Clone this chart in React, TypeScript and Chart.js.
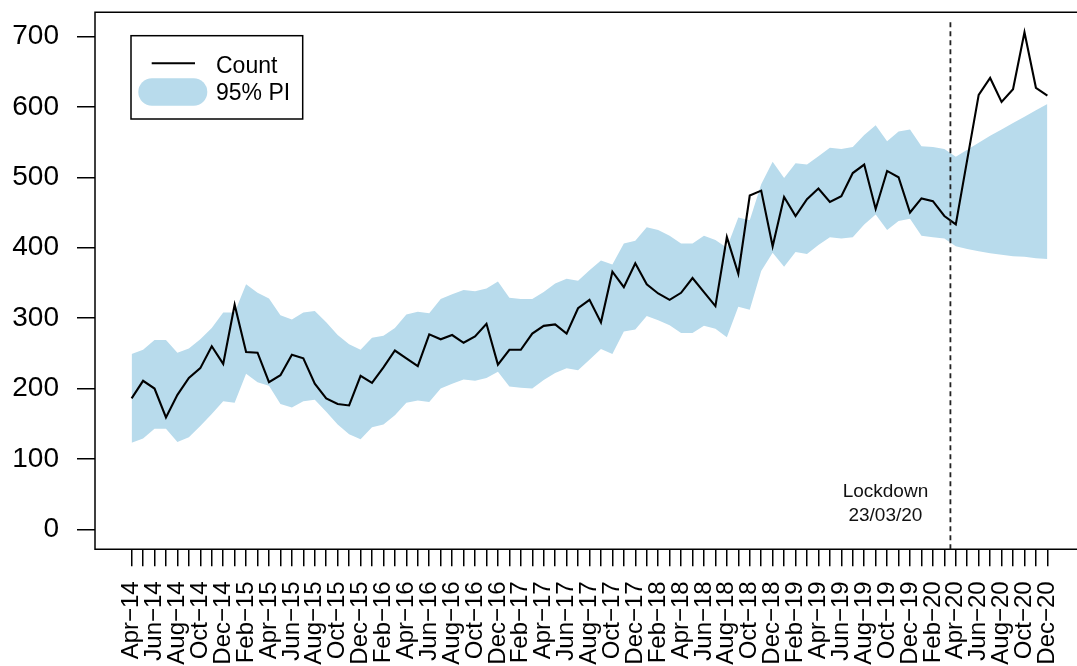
import React, { useEffect, useRef } from "react";
import { Chart, registerables } from "chart.js";

Chart.register(...registerables);

const monthLabels = [
  "Apr−14", "May−14", "Jun−14", "Jul−14", "Aug−14", "Sep−14", "Oct−14", "Nov−14", "Dec−14",
  "Jan−15", "Feb−15", "Mar−15", "Apr−15", "May−15", "Jun−15", "Jul−15", "Aug−15", "Sep−15", "Oct−15", "Nov−15", "Dec−15",
  "Jan−16", "Feb−16", "Mar−16", "Apr−16", "May−16", "Jun−16", "Jul−16", "Aug−16", "Sep−16", "Oct−16", "Nov−16", "Dec−16",
  "Jan−17", "Feb−17", "Mar−17", "Apr−17", "May−17", "Jun−17", "Jul−17", "Aug−17", "Sep−17", "Oct−17", "Nov−17", "Dec−17",
  "Jan−18", "Feb−18", "Mar−18", "Apr−18", "May−18", "Jun−18", "Jul−18", "Aug−18", "Sep−18", "Oct−18", "Nov−18", "Dec−18",
  "Jan−19", "Feb−19", "Mar−19", "Apr−19", "May−19", "Jun−19", "Jul−19", "Aug−19", "Sep−19", "Oct−19", "Nov−19", "Dec−19",
  "Jan−20", "Feb−20", "Mar−20", "Apr−20", "May−20", "Jun−20", "Jul−20", "Aug−20", "Sep−20", "Oct−20", "Nov−20", "Dec−20",
];

const countValues = [
  186, 211, 200, 159, 191, 215, 229, 260, 235,
  319, 252, 251, 209, 219, 248, 243, 207, 186, 178, 176, 218,
  208, 230, 254, 243, 232, 277, 270, 276, 265, 274, 292, 234,
  255, 255, 278, 289, 291, 278, 314, 326, 294, 366, 344, 378,
  348, 335, 326, 336, 357, 337, 317, 415, 363, 474, 481, 402,
  472, 445, 469, 484, 465, 473, 506, 518, 455, 509, 500, 450,
  470, 466, 445, 433, 525, 617, 641, 607, 625, 706, 627, 616,
];

const upperPI = [
  249, 255, 269, 269, 251, 257, 270, 286, 308,
  308, 348, 336, 328, 304, 298, 308, 310, 294, 276, 263, 255,
  272, 275, 286, 305, 309, 307, 327, 334, 340, 338, 342, 352,
  329, 327, 327, 337, 349, 356, 353, 368, 382, 376, 406, 410,
  429, 425, 417, 406, 406, 417, 411, 400, 443, 439, 490, 522,
  499, 520, 518, 530, 542, 540, 543, 560, 574, 551, 565, 568,
  544, 543, 540, 529, 539, 549, 559, 568, 577, 586, 595, 604,
];

const lowerPI = [
  123, 129, 143, 143, 124, 131, 147, 164, 182,
  180, 221, 209, 204, 178, 173, 182, 184, 167, 149, 135, 128,
  145, 149, 162, 180, 183, 181, 200, 207, 213, 211, 215, 224,
  203, 201, 200, 212, 222, 229, 226, 241, 256, 249, 281, 284,
  303, 297, 290, 279, 279, 289, 285, 273, 316, 312, 367, 393,
  373, 394, 391, 404, 415, 413, 415, 433, 447, 425, 438, 441,
  417, 415, 413, 402, 398, 395, 392, 390, 388, 387, 385, 384,
];

const yTickValues = [0, 100, 200, 300, 400, 500, 600, 700];
const lockdownIndex = 71.53;
const lockdownText = ["Lockdown", "23/03/20"];
const legendLabels = ["Count", "95% PI"];

const FONT = "'Liberation Sans', Arial, Helvetica, sans-serif";
const BAND = "rgb(184,219,236)";

function roundedPill(ctx: CanvasRenderingContext2D, x: number, y: number, w: number, h: number) {
  const r = h / 2;
  ctx.beginPath();
  ctx.moveTo(x + r, y);
  ctx.lineTo(x + w - r, y);
  ctx.arc(x + w - r, y + r, r, -Math.PI / 2, Math.PI / 2);
  ctx.lineTo(x + r, y + h);
  ctx.arc(x + r, y + r, r, Math.PI / 2, (3 * Math.PI) / 2);
  ctx.closePath();
}

const overlayPlugin = {
  id: "overlay",
  afterDraw(chart: any) {
    const { ctx, chartArea: a, scales } = chart;
    const xs = scales.x;
    ctx.save();
    // plot box (right side lies beyond the visible page)
    ctx.strokeStyle = "#000";
    ctx.lineWidth = 1.5;
    ctx.beginPath();
    ctx.moveTo(a.right + 10, a.top);
    ctx.lineTo(a.left, a.top);
    ctx.lineTo(a.left, a.bottom);
    ctx.lineTo(a.right + 10, a.bottom);
    ctx.stroke();

    // lockdown line
    const lx = xs.getPixelForValue(lockdownIndex);
    ctx.setLineDash([5, 4]);
    ctx.lineWidth = 1.8;
    ctx.strokeStyle = "#222";
    ctx.beginPath();
    ctx.moveTo(lx, a.bottom);
    ctx.lineTo(lx, a.top + 8);
    ctx.stroke();
    ctx.setLineDash([]);

    ctx.fillStyle = "#111";
    ctx.font = `19px ${FONT}`;
    ctx.textAlign = "center";
    ctx.textBaseline = "alphabetic";
    ctx.fillText(lockdownText[0], lx - 65, a.bottom - 52.6);
    ctx.fillText(lockdownText[1], lx - 65, a.bottom - 28.3);

    // legend
    const bx = a.left + 36;
    const by = a.top + 23.4;
    ctx.fillStyle = "#fff";
    ctx.fillRect(bx, by, 171.7, 83.3);
    ctx.strokeStyle = "#000";
    ctx.lineWidth = 1.5;
    ctx.strokeRect(bx, by, 171.7, 83.3);

    ctx.lineWidth = 2;
    ctx.beginPath();
    ctx.moveTo(bx + 20.7, by + 27.6);
    ctx.lineTo(bx + 64, by + 27.6);
    ctx.stroke();

    ctx.fillStyle = BAND;
    roundedPill(ctx, bx + 7.3, by + 42.6, 69, 27.4);
    ctx.fill();

    ctx.fillStyle = "#000";
    ctx.font = `23px ${FONT}`;
    ctx.textAlign = "left";
    ctx.fillText(legendLabels[0], bx + 85, by + 37);
    ctx.fillText(legendLabels[1], bx + 85, by + 64.6);
    ctx.restore();
  },
};

export default function App() {
  const canvasRef = useRef<HTMLCanvasElement | null>(null);

  useEffect(() => {
    const canvas = canvasRef.current;
    if (!canvas) return;
    const dataMax = Math.max(...countValues, ...upperPI);
    const dataMin = 0;
    const pad = (dataMax - dataMin) * 0.04;
    const xPad = (monthLabels.length - 1) * 0.04;

    const chart = new Chart(canvas, {
      type: "line",
      data: {
        datasets: [
          {
            label: legendLabels[0],
            data: countValues.map((y, i) => ({ x: i, y })),
            borderColor: "#000",
            borderWidth: 2.1,
            pointRadius: 0,
            fill: false,
            tension: 0,
          },
          {
            label: "upper",
            data: upperPI.map((y, i) => ({ x: i, y })),
            borderColor: "rgba(0,0,0,0)",
            backgroundColor: BAND,
            borderWidth: 0.01,
            pointRadius: 0,
            fill: "+1",
            tension: 0,
          },
          {
            label: "lower",
            data: lowerPI.map((y, i) => ({ x: i, y })),
            borderColor: "rgba(0,0,0,0)",
            borderWidth: 0.01,
            pointRadius: 0,
            fill: false,
            tension: 0,
          },
        ],
      },
      options: {
        animation: false,
        responsive: false,
        devicePixelRatio: 1,
        events: [],
        layout: { padding: { top: 12.3, left: 0, right: 0, bottom: 0 } },
        plugins: {
          legend: { display: false },
          tooltip: { enabled: false },
        },
        scales: {
          x: {
            type: "linear",
            min: -xPad,
            max: monthLabels.length - 1 + xPad,
            afterBuildTicks: (s: any) => {
              s.ticks = monthLabels.map((_, i) => ({ value: i }));
            },
            afterFit: (s: any) => {
              s.height = 116.7;
              s.paddingLeft = 0;
              s.paddingRight = 0;
            },
            ticks: {
              autoSkip: false,
              minRotation: 90,
              maxRotation: 90,
              padding: 15,
              color: "#000",
              font: { size: 24, family: FONT },
              callback: (v: any) => {
                const i = Math.round(Number(v));
                return i % 2 === 0 ? monthLabels[i] : "";
              },
            },
            grid: {
              drawOnChartArea: false,
              drawTicks: true,
              tickLength: 17,
              color: "#000",
              lineWidth: 1.5,
            },
            border: { display: false },
          },
          y: {
            type: "linear",
            min: dataMin - pad,
            max: dataMax + pad,
            afterBuildTicks: (s: any) => {
              s.ticks = yTickValues.map((v) => ({ value: v }));
            },
            afterFit: (s: any) => {
              s.width = 95;
              s.paddingTop = 0;
              s.paddingBottom = 0;
            },
            ticks: {
              padding: 18,
              color: "#000",
              font: { size: 28, family: FONT },
              callback: (v: any) => String(v),
            },
            grid: {
              drawOnChartArea: false,
              drawTicks: true,
              tickLength: 18,
              color: "#000",
              lineWidth: 1.5,
            },
            border: { display: false },
          },
        },
      },
      plugins: [overlayPlugin],
    } as any);

    return () => chart.destroy();
  }, []);

  return (
    <div
      style={{
        position: "fixed",
        left: 0,
        top: 0,
        width: 1077,
        height: 666,
        overflow: "hidden",
        background: "#fff",
      }}
    >
      <canvas ref={canvasRef} width={1084} height={666} style={{ display: "block" }} />
    </div>
  );
}
